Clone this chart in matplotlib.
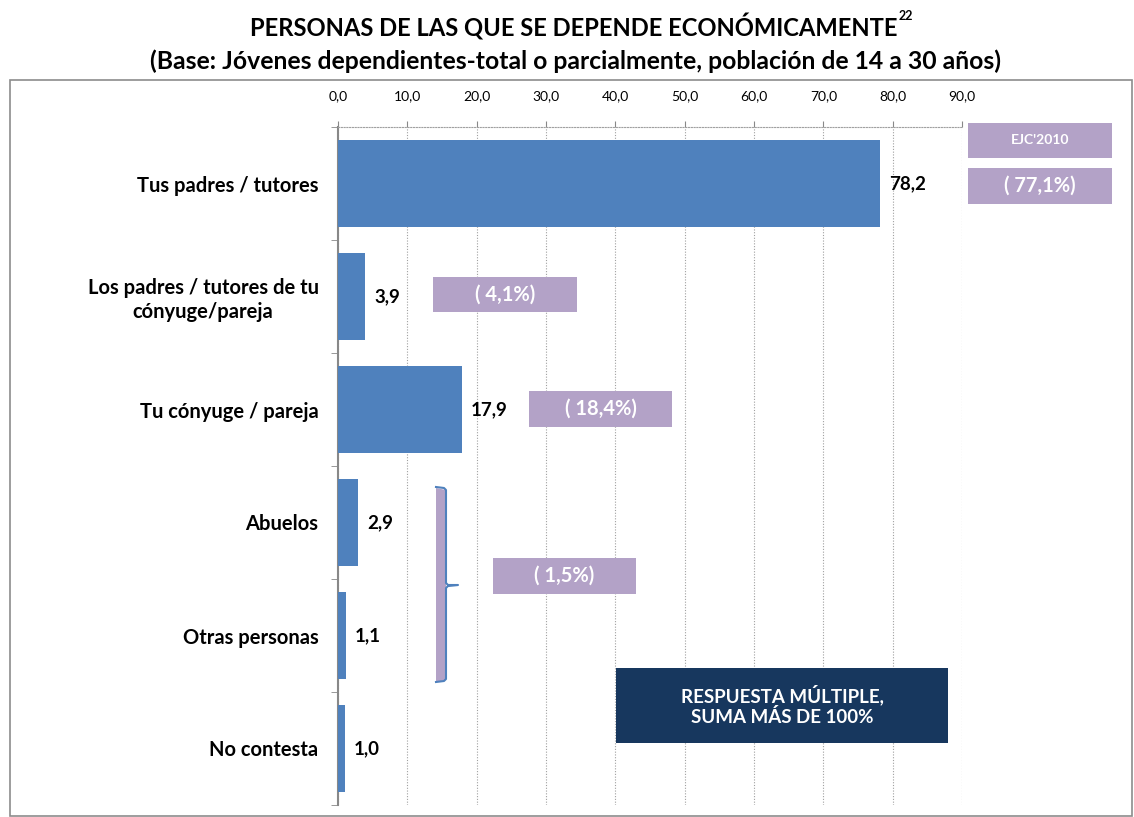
import matplotlib
matplotlib.use('Agg')
import matplotlib.pyplot as plt
from matplotlib.patches import Rectangle, Polygon
from matplotlib.lines import Line2D
import numpy as np

categorias = ['Tus padres / tutores', 'Los padres / tutores de tu\ncónyuge/pareja',
              'Tu cónyuge / pareja', 'Abuelos', 'Otras personas', 'No contesta']
valores = [78.2, 3.9, 17.9, 2.9, 1.1, 1.0]
ejc2010 = ['( 77,1%)', '( 4,1%)', '( 18,4%)', '( 1,5%)']
ticks = [0, 10, 20, 30, 40, 50, 60, 70, 80, 90]

W, H = 1134, 817
plt.rcParams['font.family'] = ['Lato', 'DejaVu Sans']

fig = plt.figure(figsize=(W / 100, H / 100), dpi=100)


def fx(x):
    return x / W


def fy(y):
    return 1 - y / H


def caja(x0, y0, x1, y1, color, texto, size, tcolor='white'):
    fig.patches.append(Rectangle((fx(x0), fy(y1)), fx(x1 - x0), (y1 - y0) / H,
                                 transform=fig.transFigure, facecolor=color,
                                 edgecolor='none', zorder=5))
    fig.text(fx((x0 + x1) / 2), fy((y0 + y1) / 2), texto, color=tcolor,
             fontsize=size, fontweight='bold', ha='center', va='center',
             zorder=6)


# marco
fig.patches.append(Rectangle((fx(10), fy(816)), fx(1122), 736 / H,
                             transform=fig.transFigure, facecolor='none',
                             edgecolor='#8c8c8c', lw=1.2))

ax = fig.add_axes([fx(338), fy(805), fx(624), 678 / H])
y = np.arange(len(categorias))
ax.barh(y, valores, height=0.77, color='#4F81BD', zorder=3)
ax.set_ylim(len(categorias) - 0.5, -0.5)
ax.set_xlim(0, 90)
ax.xaxis.tick_top()
ax.set_xticks(ticks)
ax.set_xticklabels([('%.1f' % t).replace('.', ',') for t in ticks], fontsize=10)
ax.tick_params(axis='x', length=4, pad=14, color='#888888')
ax.set_yticks(y)
ax.set_yticklabels(categorias, fontsize=14.5, fontweight='bold')
for lbl in ax.get_yticklabels():
    lbl.set_multialignment('center')
    lbl.set_linespacing(1.25)
ax.set_yticks(np.arange(len(categorias) + 1) - 0.5, minor=True)
ax.tick_params(axis='y', which='major', length=0, pad=14)
ax.tick_params(axis='y', which='minor', length=5, color='#888888')
ax.grid(axis='x', linestyle=(0, (1, 1.5)), color='#a0a0a0', lw=0.8, zorder=0)
for s in ['right', 'bottom']:
    ax.spines[s].set_visible(False)
ax.spines['top'].set_linestyle((0, (1, 1.5)))
ax.spines['top'].set_color('#a0a0a0')
ax.spines['left'].set_color('#888888')
ax.spines['left'].set_linewidth(1.5)

for i, v in enumerate(valores):
    ax.text(v + 1.3, i, ('%.1f' % v).replace('.', ','), va='center', ha='left',
            fontsize=13.5, fontweight='bold', zorder=4)

# cajas EJC'2010
morado = '#B3A2C7'
caja(968, 123, 1112, 158, morado, "EJC'2010", 10)
caja(968, 168, 1112, 204, morado, ejc2010[0], 14.5)
caja(433, 277, 577, 312, morado, ejc2010[1], 14.5)
caja(529, 391, 672, 427, morado, ejc2010[2], 14.5)
caja(493, 558, 636, 594, morado, ejc2010[3], 14.5)
caja(616, 668, 948, 743, '#17375E', 'RESPUESTA MÚLTIPLE,\nSUMA MÁS DE 100%', 13.5)

# llave
fig.patches.append(Polygon([(fx(436), fy(488)), (fx(446), fy(490)), (fx(446), fy(680)),
                            (fx(436), fy(682))], closed=True, transform=fig.transFigure,
                           facecolor=morado, edgecolor='none', zorder=5))
bx = [436, 444, 446, 446, 448, 458, 448, 446, 446, 444, 436]
by = [487, 488, 490, 583, 585, 585, 586, 588, 679, 681, 682]
fig.lines.append(Line2D([fx(v) for v in bx], [fy(v) for v in by],
                        transform=fig.transFigure, color='#4F81BD', lw=1.5, zorder=6))

# titulo
t1 = fig.text(fx(574), fy(27), 'PERSONAS DE LAS QUE SE DEPENDE ECONÓMICAMENTE',
              fontsize=17.1, fontweight='bold', ha='center', va='center')
fig.text(fx(576), fy(61), '(Base: Jóvenes dependientes-total o parcialmente, población de 14 a 30 años)',
         fontsize=17.8, fontweight='bold', ha='center', va='center')
bb = t1.get_window_extent(renderer=fig.canvas.get_renderer())
fig.text(bb.x1 / W + 0.001, fy(16), '22', fontsize=9, fontweight='bold', ha='left', va='center')

plt.savefig('out.png', dpi=100)
